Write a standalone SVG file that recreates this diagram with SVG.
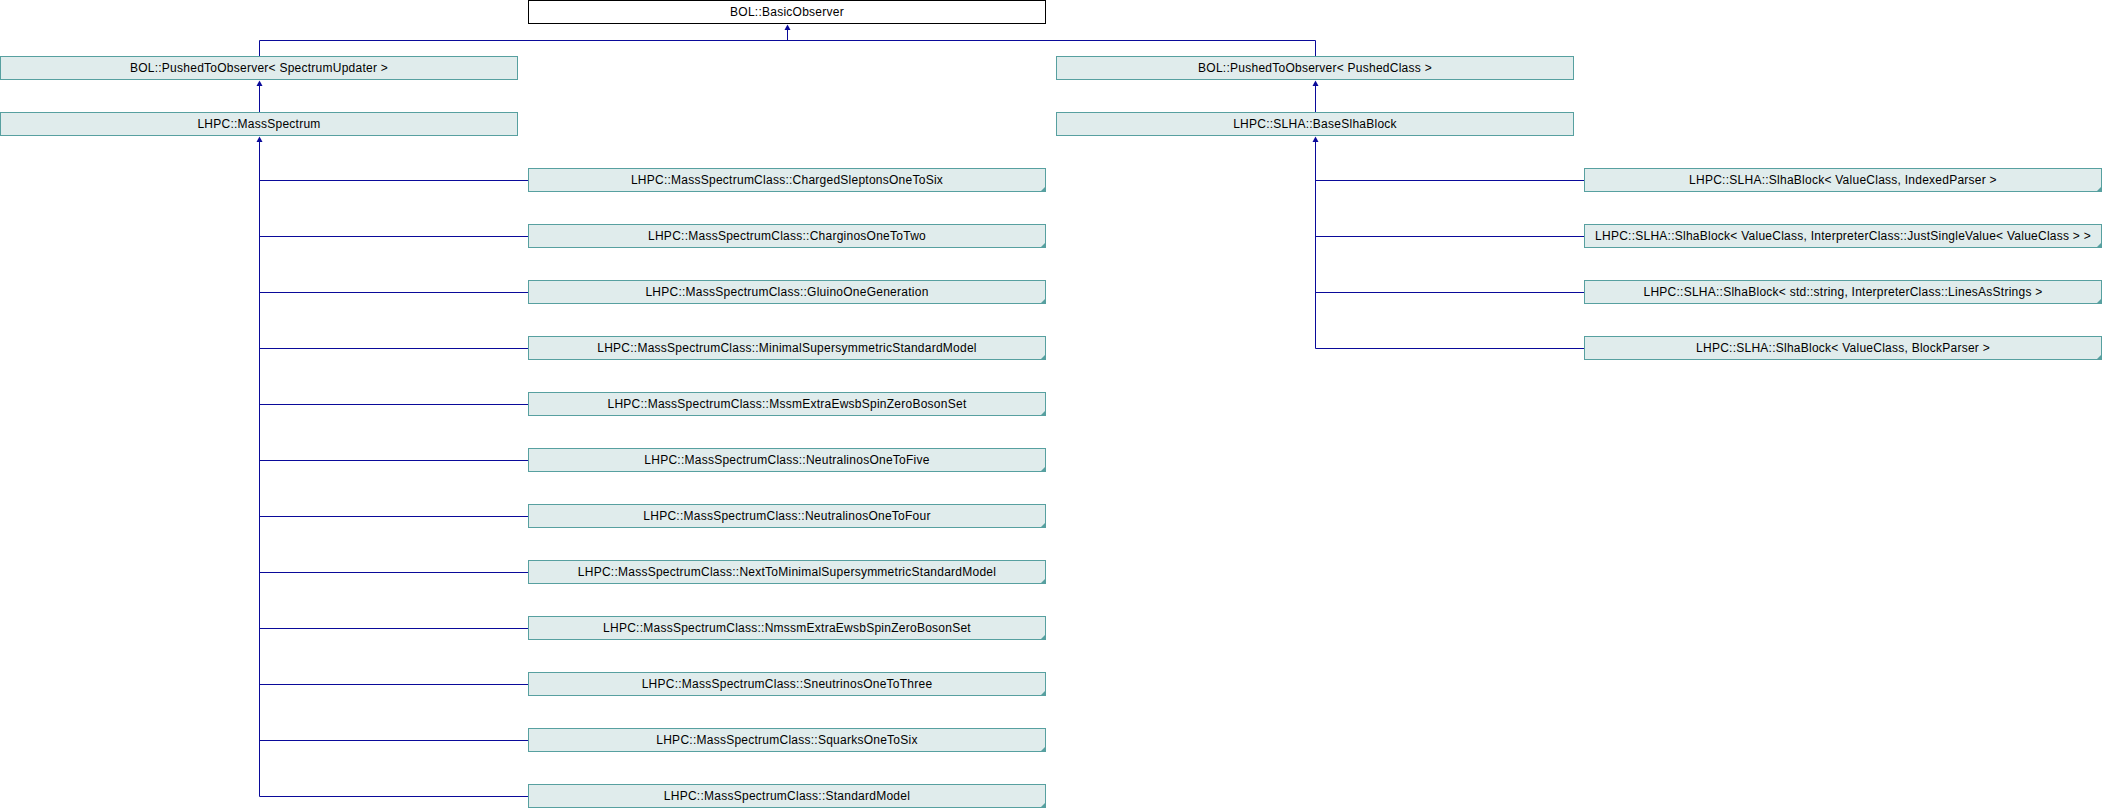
<svg xmlns="http://www.w3.org/2000/svg" width="2102" height="808" viewBox="0 0 2102 808">
<style>
.bg{fill:#ffffff}
.box{fill:#e0ecec;stroke:#57a0a0;stroke-width:1}
.root{fill:#ffffff;stroke:#000000;stroke-width:1}
.corner{fill:#57a0a0}
.lbl{font-family:"Liberation Sans",Arial,sans-serif;font-size:12px;letter-spacing:0.25px;fill:#000000;text-anchor:middle}
.edge{fill:none;stroke:#0a0a9a;stroke-width:1}
.head{fill:#0a0a9a;stroke:none}
</style>
<rect class="bg" x="0" y="0" width="2102" height="808"/>
<g id="connectors">
  <path class="edge" d="M787.5,28 V40.5 M259.5,40.5 H1315.5 M259.5,40.5 V56 M1315.5,40.5 V56"/>
  <polygon class="head" points="787.5,24.5 784.5,30 790.5,30"/>
  <path class="edge" d="M259.5,84 V112"/>
  <polygon class="head" points="259.5,80.5 256.5,86 262.5,86"/>
  <path class="edge" d="M1315.5,84 V112"/>
  <polygon class="head" points="1315.5,80.5 1312.5,86 1318.5,86"/>
  <path class="edge" d="M259.5,140 V796.5 M259.5,180.5 H528 M259.5,236.5 H528 M259.5,292.5 H528 M259.5,348.5 H528 M259.5,404.5 H528 M259.5,460.5 H528 M259.5,516.5 H528 M259.5,572.5 H528 M259.5,628.5 H528 M259.5,684.5 H528 M259.5,740.5 H528 M259.5,796.5 H528"/>
  <polygon class="head" points="259.5,136.5 256.5,142 262.5,142"/>
  <path class="edge" d="M1315.5,140 V348.5 M1315.5,180.5 H1584 M1315.5,236.5 H1584 M1315.5,292.5 H1584 M1315.5,348.5 H1584"/>
  <polygon class="head" points="1315.5,136.5 1312.5,142 1318.5,142"/>
</g>
<g id="n_basicobserver"><rect class="root" x="528.5" y="0.5" width="517" height="23"/><text class="lbl" x="787" y="15.5">BOL::BasicObserver</text></g>
<g id="n_pushed_spectrum"><rect class="box" x="0.5" y="56.5" width="517" height="23"/><text class="lbl" x="259" y="71.5">BOL::PushedToObserver&lt; SpectrumUpdater &gt;</text></g>
<g id="n_pushed_class"><rect class="box" x="1056.5" y="56.5" width="517" height="23"/><text class="lbl" x="1315" y="71.5">BOL::PushedToObserver&lt; PushedClass &gt;</text></g>
<g id="n_massspectrum"><rect class="box" x="0.5" y="112.5" width="517" height="23"/><text class="lbl" x="259" y="127.5">LHPC::MassSpectrum</text></g>
<g id="n_baseslhablock"><rect class="box" x="1056.5" y="112.5" width="517" height="23"/><text class="lbl" x="1315" y="127.5">LHPC::SLHA::BaseSlhaBlock</text></g>
<g id="n_ms1"><rect class="box" x="528.5" y="168.5" width="517" height="23"/><polygon class="corner" points="1040,192 1046,192 1046,186"/><text class="lbl" x="787" y="183.5">LHPC::MassSpectrumClass::ChargedSleptonsOneToSix</text></g>
<g id="n_ms2"><rect class="box" x="528.5" y="224.5" width="517" height="23"/><polygon class="corner" points="1040,248 1046,248 1046,242"/><text class="lbl" x="787" y="239.5">LHPC::MassSpectrumClass::CharginosOneToTwo</text></g>
<g id="n_ms3"><rect class="box" x="528.5" y="280.5" width="517" height="23"/><polygon class="corner" points="1040,304 1046,304 1046,298"/><text class="lbl" x="787" y="295.5">LHPC::MassSpectrumClass::GluinoOneGeneration</text></g>
<g id="n_ms4"><rect class="box" x="528.5" y="336.5" width="517" height="23"/><polygon class="corner" points="1040,360 1046,360 1046,354"/><text class="lbl" x="787" y="351.5">LHPC::MassSpectrumClass::MinimalSupersymmetricStandardModel</text></g>
<g id="n_ms5"><rect class="box" x="528.5" y="392.5" width="517" height="23"/><polygon class="corner" points="1040,416 1046,416 1046,410"/><text class="lbl" x="787" y="407.5">LHPC::MassSpectrumClass::MssmExtraEwsbSpinZeroBosonSet</text></g>
<g id="n_ms6"><rect class="box" x="528.5" y="448.5" width="517" height="23"/><polygon class="corner" points="1040,472 1046,472 1046,466"/><text class="lbl" x="787" y="463.5">LHPC::MassSpectrumClass::NeutralinosOneToFive</text></g>
<g id="n_ms7"><rect class="box" x="528.5" y="504.5" width="517" height="23"/><polygon class="corner" points="1040,528 1046,528 1046,522"/><text class="lbl" x="787" y="519.5">LHPC::MassSpectrumClass::NeutralinosOneToFour</text></g>
<g id="n_ms8"><rect class="box" x="528.5" y="560.5" width="517" height="23"/><polygon class="corner" points="1040,584 1046,584 1046,578"/><text class="lbl" x="787" y="575.5">LHPC::MassSpectrumClass::NextToMinimalSupersymmetricStandardModel</text></g>
<g id="n_ms9"><rect class="box" x="528.5" y="616.5" width="517" height="23"/><polygon class="corner" points="1040,640 1046,640 1046,634"/><text class="lbl" x="787" y="631.5">LHPC::MassSpectrumClass::NmssmExtraEwsbSpinZeroBosonSet</text></g>
<g id="n_ms10"><rect class="box" x="528.5" y="672.5" width="517" height="23"/><polygon class="corner" points="1040,696 1046,696 1046,690"/><text class="lbl" x="787" y="687.5">LHPC::MassSpectrumClass::SneutrinosOneToThree</text></g>
<g id="n_ms11"><rect class="box" x="528.5" y="728.5" width="517" height="23"/><polygon class="corner" points="1040,752 1046,752 1046,746"/><text class="lbl" x="787" y="743.5">LHPC::MassSpectrumClass::SquarksOneToSix</text></g>
<g id="n_ms12"><rect class="box" x="528.5" y="784.5" width="517" height="23"/><polygon class="corner" points="1040,808 1046,808 1046,802"/><text class="lbl" x="787" y="799.5">LHPC::MassSpectrumClass::StandardModel</text></g>
<g id="n_sb1"><rect class="box" x="1584.5" y="168.5" width="517" height="23"/><polygon class="corner" points="2096,192 2102,192 2102,186"/><text class="lbl" x="1843" y="183.5">LHPC::SLHA::SlhaBlock&lt; ValueClass, IndexedParser &gt;</text></g>
<g id="n_sb2"><rect class="box" x="1584.5" y="224.5" width="517" height="23"/><polygon class="corner" points="2096,248 2102,248 2102,242"/><text class="lbl" x="1843" y="239.5">LHPC::SLHA::SlhaBlock&lt; ValueClass, InterpreterClass::JustSingleValue&lt; ValueClass &gt; &gt;</text></g>
<g id="n_sb3"><rect class="box" x="1584.5" y="280.5" width="517" height="23"/><polygon class="corner" points="2096,304 2102,304 2102,298"/><text class="lbl" x="1843" y="295.5">LHPC::SLHA::SlhaBlock&lt; std::string, InterpreterClass::LinesAsStrings &gt;</text></g>
<g id="n_sb4"><rect class="box" x="1584.5" y="336.5" width="517" height="23"/><polygon class="corner" points="2096,360 2102,360 2102,354"/><text class="lbl" x="1843" y="351.5">LHPC::SLHA::SlhaBlock&lt; ValueClass, BlockParser &gt;</text></g>
</svg>
